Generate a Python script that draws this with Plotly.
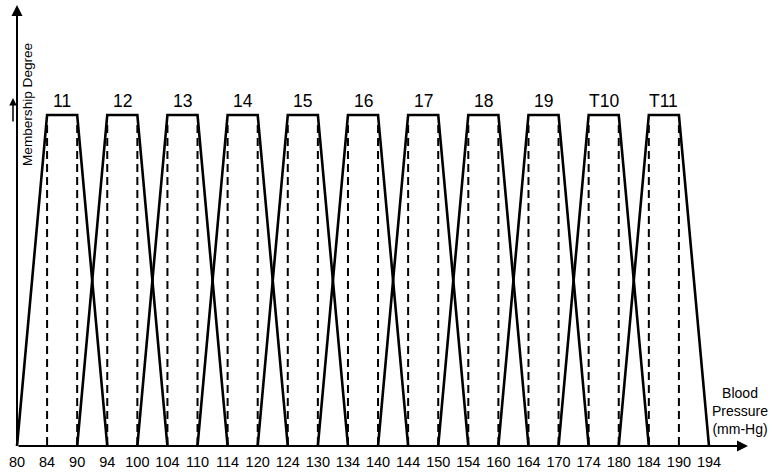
import plotly.graph_objects as go

# ---- data ----
tick_labels = ["80", "84", "90", "94", "100", "104", "110", "114", "120", "124",
               "130", "134", "140", "144", "150", "154", "160", "164", "170", "174",
               "180", "184", "190", "194"]
set_names = ["11", "12", "13", "14", "15", "16", "17", "18", "19", "T10", "T11"]
left_foot = [80, 90, 100, 110, 120, 130, 140, 150, 160, 170, 180]
left_top = [84, 94, 104, 114, 124, 134, 144, 154, 164, 174, 184]
right_top = [90, 100, 110, 120, 130, 140, 150, 160, 170, 180, 190]
right_foot = [94, 104, 114, 124, 134, 144, 154, 164, 174, 184, 194]
membership = [0, 1, 1, 0]

W, H = 777, 474
FONT = "Liberation Sans, Arial, sans-serif"

fig = go.Figure()

for i, name in enumerate(set_names):
    xs = [str(left_foot[i]), str(left_top[i]), str(right_top[i]), str(right_foot[i])]
    fig.add_trace(go.Scatter(x=xs, y=membership, mode="lines",
                             line=dict(color="black", width=2.6),
                             showlegend=False, hoverinfo="skip"))
    for xv in (str(left_top[i]), str(right_top[i])):
        fig.add_trace(go.Scatter(x=[xv, xv], y=[0.97, 0], mode="lines",
                                 line=dict(color="black", width=2, dash="8px,5px"),
                                 showlegend=False, hoverinfo="skip"))
    idx = tick_labels.index(str(left_top[i]))
    fig.add_annotation(x=idx + 0.5, y=1.042, xref="x", yref="y", text=name,
                       showarrow=False, font=dict(size=17.5, color="black", family=FONT))

plot_bottom = 446
step = 692 / 23
x0 = -17 / step

# axes arrows
fig.add_annotation(xref="paper", yref="paper", x=748 / W, y=0, ax=-731, ay=0,
                   text="", showarrow=True, arrowhead=2, arrowsize=1.1, arrowwidth=2,
                   arrowcolor="black", standoff=0, startstandoff=0)
fig.add_annotation(xref="paper", yref="paper", x=17 / W, y=(plot_bottom - 5) / plot_bottom,
                   ax=0, ay=441, text="", showarrow=True, arrowhead=2, arrowsize=1.1,
                   arrowwidth=2, arrowcolor="black", standoff=0, startstandoff=0)
# small arrow near membership 1
fig.add_annotation(xref="paper", yref="paper", x=13 / W, y=(plot_bottom - 98) / plot_bottom,
                   ax=0, ay=25, text="", showarrow=True, arrowhead=2, arrowsize=1,
                   arrowwidth=1.5, arrowcolor="black", standoff=0, startstandoff=0)

fig.add_annotation(xref="paper", yref="paper", x=27 / W, y=(plot_bottom - 105) / plot_bottom,
                   xanchor="center", yanchor="middle",
                   text="Membership Degree", textangle=-90, showarrow=False,
                   font=dict(size=13.6, color="black", family=FONT))
fig.add_annotation(xref="paper", yref="paper", x=740 / W, y=(plot_bottom - 411) / plot_bottom,
                   xanchor="center", yanchor="middle",
                   text="Blood<br>Pressure<br>(mm-Hg)", showarrow=False, align="center",
                   font=dict(size=14, color="black", family=FONT))

fig.update_layout(
    width=W, height=H,
    margin=dict(l=0, r=0, t=0, b=H - plot_bottom, pad=0),
    paper_bgcolor="white", plot_bgcolor="white",
    xaxis=dict(type="category", categoryorder="array", categoryarray=tick_labels,
               range=[x0, x0 + W / step], showgrid=False, zeroline=False, showline=False,
               ticks="outside", ticklen=3, tickcolor="rgba(0,0,0,0)",
               tickfont=dict(size=14.5, color="black", family=FONT)),
    yaxis=dict(range=[0, plot_bottom / 331], showgrid=False, zeroline=False,
               showline=False, showticklabels=False, ticks=""),
)

fig.write_html("out.html", config={"displayModeBar": False},
               post_script="document.body.style.margin='0';")
